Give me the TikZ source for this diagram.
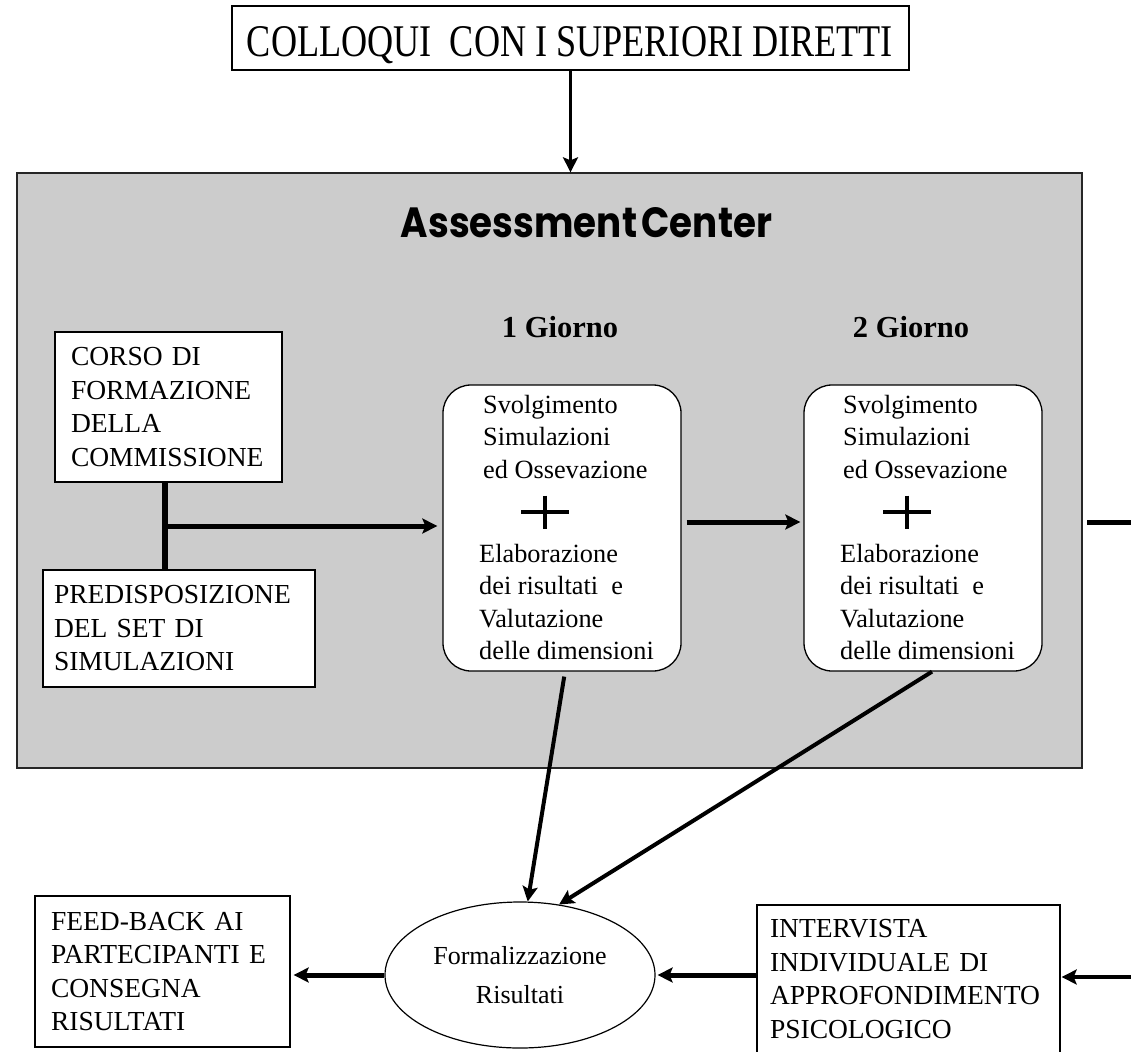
\documentclass[tikz,border=0pt]{standalone}
\usepackage{fontspec}
\usepackage{graphicx}
\setmainfont{Liberation Serif}
\newfontfamily\acfont{Poppins}
\usetikzlibrary{arrows.meta,shapes.geometric,calc}
\definecolor{acgray}{RGB}{204,204,204}
\begin{document}
\begin{tikzpicture}[x=1pt,y=-1pt,
  box/.style={draw, line width=1.3pt, fill=white, align=left, inner sep=0pt, font=\fontsize{27.5}{33.5}\selectfont},
  daybox/.style={draw, line width=1.3pt, fill=white, rounded corners=28pt, minimum width=238pt, minimum height=286pt, inner sep=0pt},
  daytxt/.style={anchor=north west, align=left, inner sep=0pt, font=\fontsize{26.3}{32.5}\selectfont},
  hdr/.style={anchor=base, inner sep=0pt, font=\bfseries\fontsize{30.5}{36}\selectfont},
  arr/.style={line width=#1, -{Stealth[length=15pt,width=15pt,inset=3pt]}},
  arr/.default=4.5pt,
  plusline/.style={line width=4pt}]
\useasboundingbox (0,0) rectangle (1131,1051);
\clip (0,0) rectangle (1131,1051);
\fill[white] (0,0) rectangle (1131,1051);

% top box
\node[draw, line width=1.3pt, fill=white, minimum width=677pt, minimum height=64pt, inner sep=0pt] (top) at (570.5,38) {};
\node[anchor=base, inner sep=0pt] (toptxt) at (570,57) {\resizebox{646pt}{30pt}{COLLOQUI\ \ CON I SUPERIORI DIRETTI}};

% assessment center
\node[draw=black!85, line width=1.3pt, fill=acgray, minimum width=1065pt, minimum height=595pt, inner sep=0pt] (ac) at (549.5,470.5) {};
\node[anchor=base, inner sep=0pt] (actitle) at (586.5,237) {\resizebox{371pt}{30pt}{\acfont\bfseries Assessment\hspace{0.12em}Center}};

\node[hdr] (g1) at (560,337) {1 Giorno};
\node[hdr] (g2) at (911,337) {2 Giorno};

\node[box, minimum width=227pt, minimum height=150pt, text width=195pt] (c) at (168.5,407) {CORSO DI\\FORMAZIONE\\DELLA\\COMMISSIONE};
\node[box, minimum width=272pt, minimum height=117pt, text width=250pt] (p) at (179,628.5) {PREDISPOSIZIONE\\DEL SET DI\\SIMULAZIONI};

\node[daybox] (d1) at (562,528) {};
\node[daybox] (d2) at (923,528) {};
\node[daytxt] (d1a) at (483,395) {Svolgimento\\Simulazioni\\ed Ossevazione};
\node[daytxt] (d1b) at (479,544) {Elaborazione\\dei risultati~ e\\Valutazione\\delle dimensioni};
\node[daytxt] (d2a) at (843,395) {Svolgimento\\Simulazioni\\ed Ossevazione};
\node[daytxt] (d2b) at (840,544) {Elaborazione\\dei risultati~ e\\Valutazione\\delle dimensioni};
\draw[plusline] ($(d1.center)+(-41,-16)$) -- ++(48,0) ($(d1.center)+(-17,-32.5)$) -- ++(0,33);
\draw[plusline] ($(d2.center)+(-40,-16)$) -- ++(48,0) ($(d2.center)+(-16,-32.5)$) -- ++(0,33);

% lower part
\node[draw, line width=1.2pt, fill=white, ellipse, minimum width=270pt, minimum height=146pt, inner sep=0pt, align=center, font=\fontsize{26}{39}\selectfont] (f) at (520,975) {Formalizzazione\\Risultati};
\node[box, minimum width=255pt, minimum height=151pt, text width=223pt] (fb) at (162.5,971.5) {FEED-BACK AI\\PARTECIPANTI E\\CONSEGNA\\RISULTATI};
\node[box, minimum width=303pt, minimum height=148pt, text width=277pt] (iv) at (908.5,979) {INTERVISTA\\INDIVIDUALE DI\\APPROFONDIMENTO\\PSICOLOGICO};

% connectors
\draw[arr=3.5pt] (top.south) -- (top.south |- ac.north);
\coordinate (j) at (165,526);
\draw[line width=5.5pt] (j |- c.south) -- (j |- p.north);
\draw[arr=5pt, shorten >=5pt] (j) -- (j -| d1.west);
\draw[arr=5pt, shorten <=5pt, shorten >=3pt] ([yshift=6pt]d1.east) -- ([yshift=6pt]d2.west);
\coordinate (e1) at (1087,522);
\coordinate (e2) at (1140,522);
\draw[line width=5pt] (e1) -- (e2);
\draw[arr=4pt, shorten <=5pt] ([xshift=3pt]d1.south) -- (f.84);
\draw[arr=4pt] ([xshift=9pt]d2.south) -- (f.61);
\draw[arr=5pt, shorten >=3pt] (f.west) -- (f.west -| fb.east);
\draw[arr=5pt, shorten >=2pt] (f.east -| iv.west) -- (f.east);
\coordinate (e3) at (1140,977);
\draw[arr=4.5pt, shorten >=1pt] (e3) -- (e3 -| iv.east);
\end{tikzpicture}
\end{document}
